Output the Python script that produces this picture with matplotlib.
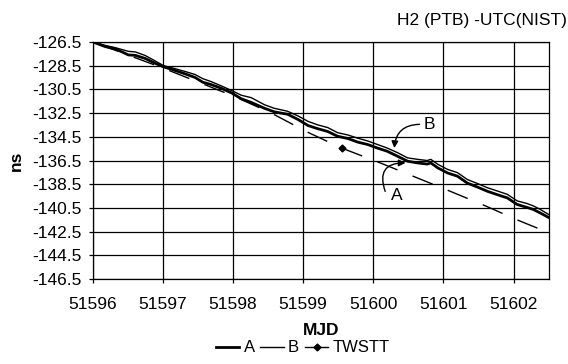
import matplotlib
matplotlib.use("Agg")
import matplotlib.pyplot as plt
from matplotlib.lines import Line2D

plt.rcParams['font.family'] = ['Liberation Sans', 'DejaVu Sans']

# traced data: H2(PTB) - UTC(NIST), ns
mjd_a = [51596.0, 51596.18, 51596.33, 51596.51, 51596.61, 51596.75, 51596.89, 51597.01,
         51597.17, 51597.32, 51597.46, 51597.57, 51597.69, 51597.83, 51597.98, 51598.12,
         51598.26, 51598.45, 51598.59, 51598.78, 51598.93, 51599.07, 51599.21, 51599.35,
         51599.49, 51599.64, 51599.78, 51599.92, 51600.06, 51600.2, 51600.35, 51600.49,
         51600.63, 51600.77, 51600.82, 51600.92, 51601.06, 51601.2, 51601.34, 51601.49,
         51601.63, 51601.77, 51601.91, 51602.05, 51602.19, 51602.28, 51602.38, 51602.5]
ns_a = [-126.5, -126.9, -127.1, -127.6, -127.64, -127.9, -128.3, -128.6,
        -128.9, -129.2, -129.5, -129.9, -130.1, -130.4, -130.8, -131.3,
        -131.6, -132.1, -132.4, -132.6, -133.05, -133.55, -133.82, -134.05,
        -134.45, -134.65, -134.95, -135.15, -135.45, -135.72, -136.15, -136.56,
        -136.7, -136.8, -136.7, -137.12, -137.55, -137.82, -138.4, -138.75,
        -139.1, -139.38, -139.65, -140.2, -140.45, -140.62, -140.92, -141.3]

mjd_b = mjd_a
ns_b = [-126.5, -126.8, -127.0, -127.3, -127.35, -127.65, -128.1, -128.5,
        -128.75, -129.0, -129.25, -129.6, -129.85, -130.2, -130.6, -131.0,
        -131.2, -131.8, -132.1, -132.35, -132.75, -133.2, -133.5, -133.72,
        -134.15, -134.35, -134.62, -134.85, -135.15, -135.45, -135.85, -136.28,
        -136.4, -136.5, -136.4, -136.82, -137.25, -137.52, -138.1, -138.45,
        -138.8, -139.07, -139.35, -139.9, -140.12, -140.32, -140.62, -141.05]

mjd_twstt = [51596.0, 51597.0, 51598.0, 51598.54, 51599.06, 51599.55, 51600.12,
             51600.6, 51601.1, 51601.59, 51602.05, 51602.34]
ns_twstt = [-126.5, -128.7, -131.05, -132.48, -134.1, -135.45, -136.75,
            -137.9, -139.1, -140.3, -141.5, -142.2]

x_ticks = [51596, 51597, 51598, 51599, 51600, 51601, 51602]
y_ticks = [-126.5, -128.5, -130.5, -132.5, -134.5, -136.5, -138.5, -140.5,
           -142.5, -144.5, -146.5]

fig = plt.figure(figsize=(5.68, 3.64), dpi=100)
ax = fig.add_axes([0.163, 0.233, 0.803, 0.652])

# TWSTT as long dashes, one marker
ax.plot(mjd_twstt, ns_twstt, color='black', lw=1.0, marker='D', markersize=3.5,
        markevery=[5], linestyle=(23, (15.6, 11.7)))

ax.plot(mjd_b, ns_b, color='black', lw=1.0)
ax.plot(mjd_a, ns_a, color='black', lw=2.0)

ax.set_xlim(51596, 51602.5)
ax.set_ylim(-146.5, -126.5)
ax.set_xticks(x_ticks)
ax.set_yticks(y_ticks)
ax.set_xticklabels([str(t) for t in x_ticks])
ax.set_yticklabels(['%.1f' % t for t in y_ticks])
ax.grid(True, color='black', lw=0.9)
ax.tick_params(direction='out', length=3, width=0.9, labelsize=12.5, color='black')
ax.tick_params(axis='x', pad=10)
ax.tick_params(axis='y', pad=5)
for sp in ax.spines.values():
    sp.set_linewidth(0.9)

ax.set_ylabel('ns', fontsize=12.5, fontweight='bold', labelpad=6)
ax.set_xlabel('MJD', fontsize=12.5, fontweight='bold', labelpad=8)
fig.text(0.998, 0.945, 'H2 (PTB) -UTC(NIST)', ha='right', va='center', fontsize=12.5)

# labels A and B with curved arrows
ax.text(51600.8, -133.5, 'B', fontsize=12.5, ha='center', va='center')
ax.annotate('', xy=(51600.3, -135.45), xytext=(51600.66, -133.45),
            arrowprops=dict(arrowstyle='-|>', color='black', lw=1.0, mutation_scale=10,
                            connectionstyle='arc3,rad=0.45', shrinkA=0, shrinkB=0))
ax.text(51600.33, -139.45, 'A', fontsize=12.5, ha='center', va='center')
ax.annotate('', xy=(51600.46, -136.7), xytext=(51600.17, -139.1),
            arrowprops=dict(arrowstyle='-|>', color='black', lw=1.0, mutation_scale=10,
                            connectionstyle='arc3,rad=-0.7', shrinkA=0, shrinkB=0))

handles = [Line2D([], [], color='black', lw=2.0),
           Line2D([], [], color='black', lw=1.0),
           Line2D([], [], color='black', lw=1.0, marker='D', markersize=3.5)]
fig.legend(handles, ['A', 'B', 'TWSTT'], loc='center', bbox_to_anchor=(0.533, 0.044),
           ncol=3, frameon=False, fontsize=12, handlelength=1.4, handletextpad=0.25,
           columnspacing=0.35, borderaxespad=0)

fig.savefig('out.png', dpi=100)
